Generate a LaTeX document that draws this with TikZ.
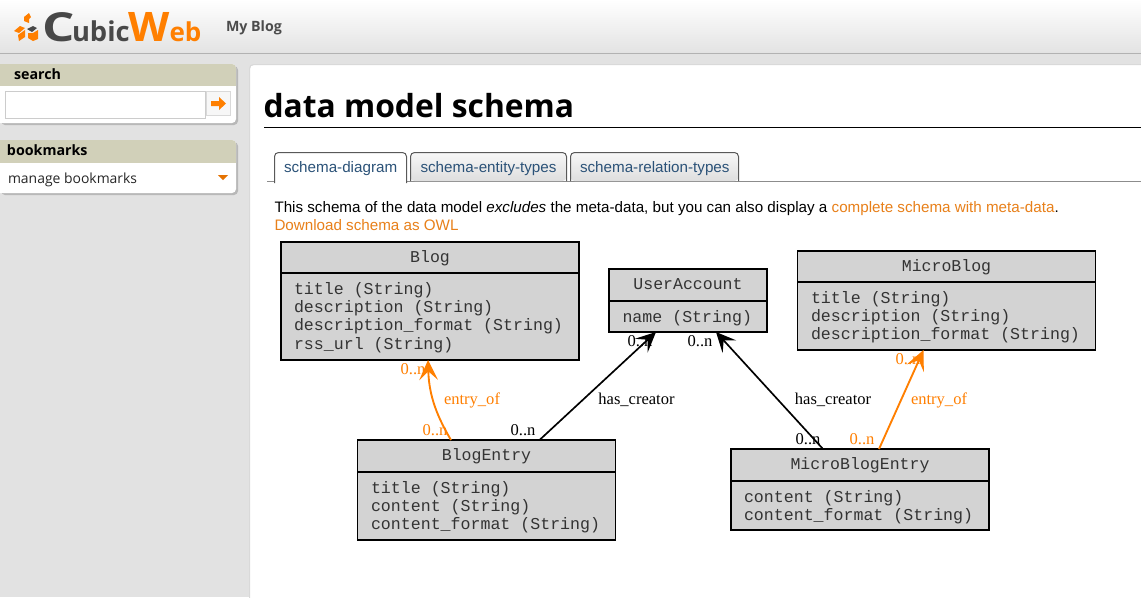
\documentclass[tikz,border=0pt]{standalone}
\usepackage{fontspec}
\usepackage{graphicx}
\setmainfont{Liberation Sans}
\newfontfamily\uifont{Open Sans}
\newfontfamily\monof{Liberation Mono}
\newfontfamily\serif{Liberation Serif}
\usetikzlibrary{arrows.meta,calc}
\definecolor{pagegrey}{HTML}{E2E2E2}
\definecolor{boxgrey}{HTML}{D3D3D3}
\definecolor{panelhead}{HTML}{D1D0B9}
\definecolor{cwo}{HTML}{FF7F00}
\definecolor{linko}{HTML}{E8801A}
\definecolor{tabblue}{HTML}{2B5278}
\definecolor{logod}{HTML}{484848}
\tikzset{
  x=0.75pt,y=-0.75pt,
  every node/.style={inner sep=0pt,outer sep=0pt},
  umlbox/.style={draw=black,line width=1.05pt,fill=boxgrey,anchor=north west,minimum width=#1*0.75pt},
  boxhead/.style={font=\monof\fontsize{12.4pt}{14pt}\selectfont,text=black!80,anchor=base},
  boxfields/.style={font=\monof\fontsize{12.45pt}{13.75pt}\selectfont,text=black!80,anchor=north west,align=left},
  divider/.style={line width=1.05pt},
  edgelab/.style={font=\serif\fontsize{12.4pt}{14pt}\selectfont,anchor=base},
  vee/.style={-{Stealth[length=15pt,width=14pt,inset=6.5pt,line width=1pt]}},
  blackedge/.style={vee,black,line width=1.25pt},
  orangeedge/.style={vee,cwo,line width=1.4pt},
  panel/.style={fill=white,rounded corners=3pt},
  panelshadow/.style={fill=black!28,rounded corners=3pt},
  paneltitle/.style={font=\uifont\bfseries\fontsize{10.7pt}{13pt}\selectfont,anchor=base west,text=black},
  tabtext/.style={font=\fontsize{11.4pt}{13pt}\selectfont,text=tabblue,anchor=base west},
  bodytext/.style={font=\fontsize{11.39pt}{13pt}\selectfont,anchor=base west,text=black},
  tabshape/.style={draw=black!65,line width=0.75pt,rounded corners=3pt},
}
\begin{document}
\begin{tikzpicture}
\useasboundingbox (0,0) rectangle (1141,597);
% page
\fill[pagegrey] (0,0) rectangle (1141,597);
\shade[top color=white,bottom color=black!11] (0,0) rectangle (1141,53);
\draw[black!30,line width=0.75pt] (0,53.5) -- (1141,53.5);
% logo
\fill[cwo] (29,13) -- (24,17) -- (24,21) -- (29,23) -- (29,19) -- (31,17) -- cycle;
\fill[cwo] (14,31) -- (20,26) -- (25,28) -- (19,33) -- cycle;
\fill[cwo] (18,35) -- (25,30) -- (25,37) -- (19,41) -- cycle;
\fill[cwo] (33,33) -- (38,30) -- (38,39) -- (33,41) -- (28,38) -- (28,33) -- cycle;
\fill[logod] (27,29) -- (33,26) -- (37,28) -- (32,32) -- cycle;
\node[font=\uifont\bfseries\fontsize{30pt}{33pt}\selectfont,text=logod,anchor=base west] (logoC) at (42.5,41) {\scalebox{1.27}[1]{C}};
\node[font=\uifont\fontsize{20.5pt}{21pt}\selectfont\bfseries,text=logod,anchor=base west] (logoU) at (72,41) {ubic};
\node[font=\uifont\bfseries\fontsize{30.5pt}{33pt}\selectfont,text=cwo,anchor=base west] (logoW) at (128,41) {\scalebox{1.05}[1]{W}};
\node[font=\uifont\bfseries\fontsize{19.5pt}{21pt}\selectfont,text=cwo,anchor=base west] (logoE) at (169.5,41) {eb};
\node[font=\uifont\bfseries\fontsize{10.65pt}{13pt}\selectfont,text=black!70,anchor=base west] (myblog) at (226,31) {My Blog};
% search panel
\fill[panelshadow] (1,66) rectangle (238,125);
\fill[panel] (-5,64) rectangle (236,123);
\begin{scope}
\clip[rounded corners=3pt] (-5,64) rectangle (236,123);
\fill[panelhead] (-5,64) rectangle (236,86);
\end{scope}
\node[paneltitle] (searcht) at (14,79) {search};
\draw[black!20,fill=white,line width=0.75pt] (5.5,91.5) rectangle (205.5,118.5);
\draw[black!15,fill=black!3,line width=0.75pt] (206.5,91.5) rectangle (230.5,115.5);
\fill[cwo] (211,101) -- (219,101) -- (219,97) -- (226,103.5) -- (219,110) -- (219,106) -- (211,106) -- cycle;
% bookmarks panel
\fill[panelshadow] (1,142) rectangle (238,195);
\fill[panel] (-5,140) rectangle (236,193);
\begin{scope}
\clip[rounded corners=3pt] (-5,140) rectangle (236,193);
\fill[panelhead] (-5,140) rectangle (236,163);
\end{scope}
\node[paneltitle] (bookmarkst) at (7,155) {bookmarks};
\node[font=\uifont\fontsize{10.45pt}{13pt}\selectfont,anchor=base west,text=black!85] (manage) at (8,183) {manage bookmarks};
\fill[cwo!90!black] (218,175) -- (228,175) -- (223,180) -- cycle;
% main panel
\fill[white,rounded corners=3pt] (250,65) rectangle (1160,620);
\draw[black!15,line width=0.75pt,rounded corners=3pt] (249.5,620) -- (249.5,64.5) -- (1160,64.5);
\node[font=\uifont\bfseries\fontsize{23.85pt}{30pt}\selectfont,anchor=base west,text=black] (title) at (263.5,117) {data model schema};
\draw[black,line width=0.75pt] (264,127.5) -- (1141,127.5);
% tabs
\draw[black!45,line width=0.75pt] (267,181.5) -- (1141,181.5);
\shade[top color=black!3,bottom color=black!13,rounded corners=3pt] (410.5,181) -- (410.5,152.5) -- (566.5,152.5) -- (566.5,181) -- cycle;
\draw[tabshape] (410.5,181) -- (410.5,152.5) -- (566.5,152.5) -- (566.5,181);
\shade[top color=black!3,bottom color=black!13,rounded corners=3pt] (570.5,181) -- (570.5,152.5) -- (738.5,152.5) -- (738.5,181) -- cycle;
\draw[tabshape] (570.5,181) -- (570.5,152.5) -- (738.5,152.5) -- (738.5,181);
\fill[white] (275,183) rectangle (407,160);
\draw[tabshape,fill=white] (274.5,183) -- (274.5,152.5) -- (406.5,152.5) -- (406.5,183);
\node[tabtext] (tab1) at (284,172) {schema-diagram};
\node[tabtext] (tab2) at (420.5,172) {schema-entity-types};
\node[tabtext] (tab3) at (580,172) {schema-relation-types};
% intro
\node[bodytext] (intro) at (274.5,212) {This schema of the data model \textit{excludes} the meta-data, but you can also display a \textcolor{linko}{complete schema with meta-data}.};
\node[bodytext,text=linko] (owl) at (274.5,230) {Download schema as OWL};
% boxes
\node[umlbox=298,minimum height=118*0.75pt] (blog) at (281,242) {};
\draw[divider] (blog.west |- 0,273) -- (blog.east |- 0,273);
\node[boxhead] (blogh) at (430,262) {Blog};
\node[boxfields] (blogf) at (294,282) {title (String)\\description (String)\\description\_format (String)\\rss\_url (String)};
\node[umlbox=158,minimum height=63*0.75pt] (user) at (609,269) {};
\draw[divider] (user.west |- 0,301) -- (user.east |- 0,301);
\node[boxhead] (userh) at (688,289) {UserAccount};
\node[boxfields] (userf) at (622.5,310) {name (String)};
\node[umlbox=298,minimum height=99*0.75pt] (micro) at (797.5,251) {};
\draw[divider] (micro.west |- 0,282) -- (micro.east |- 0,282);
\node[boxhead] (microh) at (946.5,271) {MicroBlog};
\node[boxfields] (microf) at (811,291) {title (String)\\description (String)\\description\_format (String)};
\node[umlbox=258,minimum height=100*0.75pt] (entry) at (357.5,440) {};
\draw[divider] (entry.west |- 0,472) -- (entry.east |- 0,472);
\node[boxhead] (entryh) at (486.5,460) {BlogEntry};
\node[boxfields] (entryf) at (371,481) {title (String)\\content (String)\\content\_format (String)};
\node[umlbox=258,minimum height=81*0.75pt] (mentry) at (731,449) {};
\draw[divider] (mentry.west |- 0,481) -- (mentry.east |- 0,481);
\node[boxhead] (mentryh) at (860,469) {MicroBlogEntry};
\node[boxfields] (mentryf) at (744,490) {content (String)\\content\_format (String)};
% connectors
\draw[orangeedge] ([xshift=-35.5*0.75pt]entry.north) .. controls (438,418) and (429,397) .. ([xshift=-2*0.75pt]blog.south);
\draw[blackedge] ([xshift=53*0.75pt]entry.north) -- ([xshift=-32*0.75pt]user.south);
\draw[blackedge] ([xshift=-37*0.75pt]mentry.north) -- ([xshift=28*0.75pt]user.south);
\draw[orangeedge] ([xshift=19*0.75pt]mentry.north) -- ([xshift=-23*0.75pt]micro.south);
% labels
\node[edgelab,text=cwo] (l1) at (413,374) {0..n};
\node[edgelab,text=cwo] (l2) at (435,435) {0..n};
\node[edgelab,text=black] (l3) at (523,435) {0..n};
\node[edgelab,text=black] (l4) at (640,346) {0..n};
\node[edgelab,text=black] (l5) at (700,346) {0..n};
\node[edgelab,text=black] (l6) at (808,444) {0..n};
\node[edgelab,text=cwo] (l7) at (862,444) {0..n};
\node[edgelab,text=cwo] (l8) at (908,364) {0..n};
\node[edgelab,text=cwo] (e1) at (472,404) {entry\_of};
\node[edgelab,text=black] (c1) at (636.5,404) {has\_creator};
\node[edgelab,text=black] (c2) at (833,404) {has\_creator};
\node[edgelab,text=cwo] (e2) at (939,404) {entry\_of};
\end{tikzpicture}
\end{document}
